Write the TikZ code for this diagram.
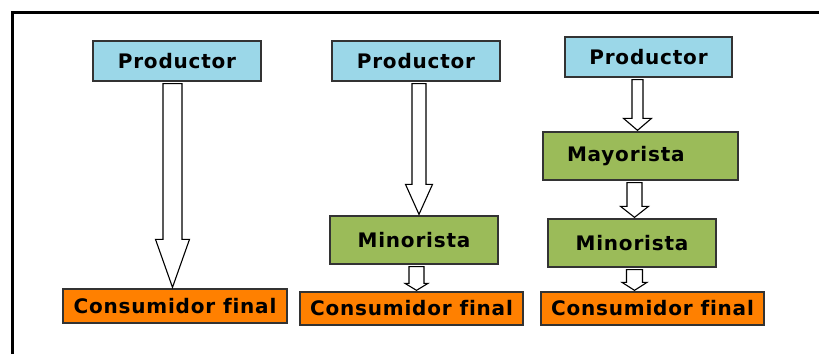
\documentclass[tikz,border=0pt]{standalone}
\usepackage{fontspec}
\newfontfamily\cajafont{DejaVu Sans Bold}[LetterSpace=4,Ligatures=NoCommon]
\usepackage{tikz}
\usetikzlibrary{calc,positioning}
\definecolor{azulprod}{HTML}{9BD7E8}
\definecolor{verdecanal}{HTML}{9BBB59}
\definecolor{naranjacons}{HTML}{FF8000}

% flecha de bloque: #1 x, #2 desde, #3 hasta, #4 medio ancho, #5 medio ancho punta, #6 largo punta
\newcommand{\flecha}[6]{%
  \draw[flecha] let \p1=(#2.south), \p2=(#3.north) in
    (#1pt-#4pt,\y1-2pt) -- (#1pt-#4pt,\y2+1pt+#6pt) -- (#1pt-#5pt,\y2+1pt+#6pt)
    -- (#1pt,\y2+1pt) -- (#1pt+#5pt,\y2+1pt+#6pt) -- (#1pt+#4pt,\y2+1pt+#6pt)
    -- (#1pt+#4pt,\y1-2pt) -- cycle;}

\begin{document}
\begin{tikzpicture}[x=1pt,y=-1pt,
    caja/.style={draw=black!80, line width=1.3pt, rectangle, inner sep=0pt,
      font=\cajafont\fontsize{20}{22}\selectfont},
    prod/.style={caja, fill=azulprod, minimum width=168, minimum height=40},
    canal/.style={caja, fill=verdecanal, minimum width=168, minimum height=48},
    cons/.style={caja, fill=naranjacons, minimum width=223, minimum height=33},
    flecha/.style={draw=black, line width=1.1pt, fill=white, line join=miter}]
        \useasboundingbox (0,0) rectangle (819,354);
        % marco
        \draw[line width=3pt] (12,354) -- (12,12) -- (819,12);
        % canal directo
        \node[prod] (prodA) at (177,61) {Productor};
        \node[cons, minimum width=224, minimum height=34] (consA) at (175,306) {Consumidor final};
        \flecha{172.5}{prodA}{consA}{9.5}{17}{48}
        % canal corto
        \node[prod] (prodB) at (416,61) {Productor};
        \node[canal] (minB) at (414,240) {Minorista};
        \node[cons] (consB) at (411.5,308.5) {Consumidor final};
        \flecha{419}{prodB}{minB}{7}{13.5}{30}
        \flecha{416.5}{minB}{consB}{7.5}{11.5}{7}
        % canal largo
        \node[prod, minimum width=167] (prodC) at (648.5,57) {Productor};
        \node[canal, minimum width=195, text width=147, align=left] (mayC) at (640.5,156) {Mayorista};
        \node[canal] (minC) at (632,243) {Minorista};
        \node[cons] (consC) at (652.5,308.5) {Consumidor final};
        \flecha{637.5}{prodC}{mayC}{5.5}{14}{12}
        \flecha{634.5}{mayC}{minC}{7.5}{14}{11}
        \flecha{634.5}{minC}{consC}{8}{12.5}{8}
      \end{tikzpicture}
\end{document}
